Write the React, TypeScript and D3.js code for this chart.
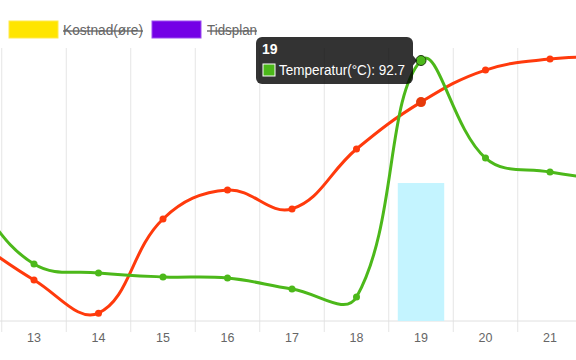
import React from 'react';
import * as d3 from 'd3';

const categories = ['12', '13', '14', '15', '16', '17', '18', '19', '20', '21', '22'];
const visibleLabels = ['13', '14', '15', '16', '17', '18', '19', '20', '21'];
const temperature = [45, 20.3, 17.1, 15.7, 15.3, 11.4, 8.5, 92.7, 58.0, 53.0, 50];
const priceSeries = [30, 14.6, 2.8, 36.3, 46.6, 39.9, 61.2, 77.9, 89.3, 93.2, 94.3];
const barSeries: (number | null)[] = [null, null, null, null, null, null, null, 49.1, null, null, null];
const legendItems = [
  { label: 'Kostnad(øre)', color: '#ffe500', border: '#ffe94d' },
  { label: 'Tidsplan', color: '#7400e6', border: '#9b4df0' },
];
const activeIndex = 7;

const W = 576;
const H = 360;
const top = 48;
const bottom = 321;

type P = { x: number; y: number };

// chart.js style cubic spline (tension 0.4)
function splinePath(pts: P[], t = 0.4) {
  const cps = pts.map((cur, i) => {
    const prev = pts[i - 1] || cur;
    const next = pts[i + 1] || cur;
    const d01 = Math.hypot(cur.x - prev.x, cur.y - prev.y);
    const d12 = Math.hypot(next.x - cur.x, next.y - cur.y);
    let s01 = d01 / (d01 + d12);
    let s12 = d12 / (d01 + d12);
    s01 = isNaN(s01) ? 0 : s01;
    s12 = isNaN(s12) ? 0 : s12;
    const fa = t * s01;
    const fb = t * s12;
    return {
      prev: { x: cur.x - fa * (next.x - prev.x), y: cur.y - fa * (next.y - prev.y) },
      next: { x: cur.x + fb * (next.x - prev.x), y: cur.y + fb * (next.y - prev.y) },
    };
  });
  const path = d3.path();
  pts.forEach((p, i) => {
    if (i === 0) path.moveTo(p.x, p.y);
    else path.bezierCurveTo(cps[i - 1].next.x, cps[i - 1].next.y, cps[i].prev.x, cps[i].prev.y, p.x, p.y);
  });
  return path.toString();
}

export default function App() {
  const x = d3.scaleBand<string>().domain(categories).range([-62.75, -62.75 + 64.5 * categories.length]).paddingInner(0).paddingOuter(0);
  const y = d3.scaleLinear().domain([0, 100]).range([bottom, 40]);
  const cx = (c: string) => (x(c) as number) + x.bandwidth() / 2;

  const greenPts = categories.map((c, i) => ({ x: cx(c), y: y(temperature[i]) }));
  const redPts = categories.map((c, i) => ({ x: cx(c), y: y(priceSeries[i]) }));
  const green = '#4cb81a';
  const red = '#ff3a0c';
  const font = 'Liberation Sans, Arial, Helvetica, sans-serif';

  const hp = greenPts[activeIndex];
  const tipRight = hp.x - 8;
  const tipLeft = tipRight - 157;
  const tipTop = 37;
  const tipBottom = 84;

  return (
    <svg width={W} height={H} style={{ position: 'absolute', left: 0, top: 0, background: '#fff' }} fontFamily={font}>
      <defs>
        <clipPath id="area">
          <rect x={0} y={top - 10} width={W} height={bottom - top + 10} />
        </clipPath>
      </defs>
      {/* grid */}
      {categories.map((c) => (
        <line key={c} x1={(x(c) as number)} x2={(x(c) as number)} y1={top} y2={332} stroke="#e5e5e5" strokeWidth={1} />
      ))}
      <line x1={0} x2={W} y1={bottom} y2={bottom} stroke="#e0e0e0" strokeWidth={1} />
      {/* tick labels */}
      {visibleLabels.map((c) => (
        <text key={c} x={cx(c)} y={342} textAnchor="middle" fontSize={12.5} fill="#666">{c}</text>
      ))}
      {/* bars */}
      {categories.map((c, i) =>
        barSeries[i] == null ? null : (
          <rect key={c} x={cx(c) - x.bandwidth() * 0.36} width={x.bandwidth() * 0.72} y={y(barSeries[i] as number)} height={bottom - y(barSeries[i] as number)} fill="#c4f4ff" />
        ),
      )}
      <g clipPath="url(#area)">
        <path d={splinePath(redPts)} fill="none" stroke={red} strokeWidth={3} />
        <path d={splinePath(greenPts)} fill="none" stroke={green} strokeWidth={3} />
        {redPts.map((p, i) => (
          <circle key={i} cx={p.x} cy={p.y} r={i === activeIndex ? 5 : 3.5} fill={i === activeIndex ? '#e63a0a' : red} />
        ))}
        {greenPts.map((p, i) =>
          i === activeIndex ? null : <circle key={i} cx={p.x} cy={p.y} r={3.5} fill={green} />,
        )}
      </g>
      <circle cx={hp.x} cy={hp.y} r={5} fill={green} stroke="#1f3a10" strokeWidth={1} />
      {/* legend */}
      <rect x={9} y={21} width={49} height={17} fill={legendItems[0].color} stroke={legendItems[0].border} />
      <text x={63} y={35} fontSize={13.8} textLength={80} lengthAdjust="spacingAndGlyphs" fill="#666" style={{ textDecoration: 'line-through' }}>{legendItems[0].label}</text>
      <rect x={152} y={21} width={49} height={17} fill={legendItems[1].color} stroke={legendItems[1].border} />
      <text x={207} y={35} fontSize={13.8} textLength={50} lengthAdjust="spacingAndGlyphs" fill="#666" style={{ textDecoration: 'line-through' }}>{legendItems[1].label}</text>
      {/* tooltip */}
      <g>
        <rect x={tipLeft} y={tipTop} width={tipRight - tipLeft} height={tipBottom - tipTop} rx={6} fill="rgba(0,0,0,0.8)" />
        <path d={`M${tipRight},${hp.y - 5} L${tipRight + 4},${hp.y} L${tipRight},${hp.y + 5} Z`} fill="rgba(0,0,0,0.8)" />
        <text x={tipLeft + 6} y={54} fontSize={14} fontWeight="bold" fill="#fff">{categories[activeIndex]}</text>
        <rect x={tipLeft + 6.5} y={63.5} width={13} height={13} fill="#fff" />
        <rect x={tipLeft + 7.5} y={64.5} width={11} height={11} fill={green} />
        <text x={tipLeft + 23} y={75} fontSize={14} textLength={126} lengthAdjust="spacingAndGlyphs" fill="#fff">{`Temperatur(°C): ${temperature[activeIndex]}`}</text>
      </g>
    </svg>
  );
}
